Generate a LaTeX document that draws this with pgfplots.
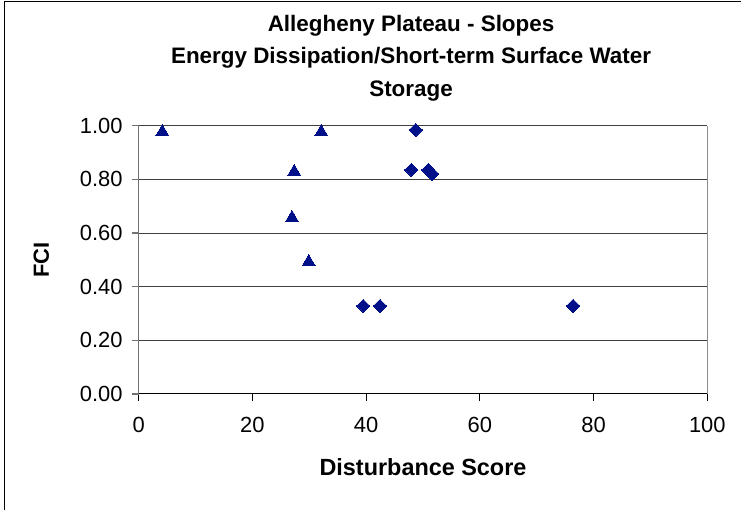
\documentclass[border=0pt]{standalone}
\usepackage{pgfplots}
\pgfplotsset{compat=1.18}
\usepackage{fontspec}
\setmainfont{Liberation Sans}
\definecolor{navy}{RGB}{0,16,136}
\begin{document}
\begin{tikzpicture}
\useasboundingbox (0,0) rectangle (741bp,510bp);
\fill[white] (0,0) rectangle (741bp,510bp);
\draw[black, line width=1.2bp] (4.7bp,0) -- (4.7bp,508.4bp) -- (741bp,508.4bp);
\begin{axis}[
  at={(138.7bp,116bp)}, anchor=south west,
  scale only axis, width=568.6bp, height=268.3bp,
  xmin=0, xmax=100, ymin=0, ymax=1,
  axis x line*=bottom, axis y line*=left,
  x axis line style={black, line width=1bp},
  y axis line style={black!55, line width=1.2bp},
  xtick={0,20,40,60,80,100},
  ytick={0,0.2,0.4,0.6,0.8,1},
  tick align=outside,
  major tick length=7bp,
  xtick style={black, line width=1bp},
  ytick style={black!55, line width=1.2bp},
  ymajorgrids,
  major grid style={black!75, line width=1bp},
  /pgf/number format/assume math mode=true,
  yticklabel style={/pgf/number format/.cd, fixed, fixed zerofill, precision=2},
  ticklabel style={font=\fontsize{22}{26}\selectfont, inner sep=0pt},
  yticklabel shift=9bp,
  xticklabel shift=16bp,
  title={Allegheny Plateau - Slopes\\Energy Dissipation/Short-term Surface Water\\Storage},
  title style={at={(axis description cs:0.479,1.390)}, anchor=north, align=center, inner sep=0pt, font=\bfseries\fontsize{22.5}{32.5}\selectfont},
  xlabel={Disturbance Score},
  xlabel style={at={(axis description cs:0.5,-0.3056)}, anchor=base, inner sep=0pt, font=\bfseries\fontsize{23.5}{26}\selectfont},
  ylabel={FCI},
  ylabel style={at={(axis description cs:-0.1578,0.5)}, anchor=base, rotate=0, inner sep=0pt, font=\bfseries\fontsize{22}{26}\selectfont},
  clip=false,
]
\addplot[only marks, mark=triangle*, mark size=7.6bp, color=navy, mark options={fill=navy, draw=navy, line width=0pt}]
  coordinates {(4.15,0.976) (32.1,0.976) (27.35,0.828) (26.96,0.656) (29.9,0.492)};
\addplot[only marks, mark=square*, mark size=4.7bp, color=navy, mark options={rotate=45, fill=navy, draw=navy, line width=0pt}]
  coordinates {(48.71,0.984) (47.95,0.835) (50.94,0.835) (51.64,0.820) (39.5,0.328) (42.44,0.328) (76.4,0.328)};
\draw[black!45, line width=1.2bp] (rel axis cs:1,0) -- (rel axis cs:1,1);
\end{axis}
\end{tikzpicture}
\end{document}
